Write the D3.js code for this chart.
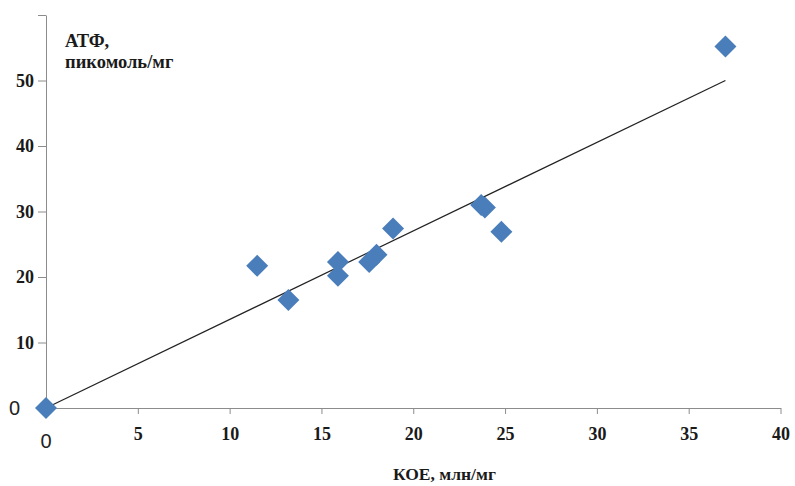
<!DOCTYPE html>
<html>
<head>
<meta charset="utf-8">
<script src="https://cdn.jsdelivr.net/npm/d3@7"></script>
<style>
  body { margin: 0; background: #fff; }
  .tick text { font-family: "Liberation Serif", "Times New Roman", serif; font-weight: bold; font-size: 18px; fill: #1a1a1a; }
  .axis path, .axis line { stroke: #8c8c8c; }
  .title { font-family: "Liberation Serif", "Times New Roman", serif; font-weight: bold; fill: #1a1a1a; }
  .zero { font-family: "Liberation Sans", Arial, sans-serif; font-size: 20px; fill: #222; }
</style>
</head>
<body>
<div id="chart"></div>
<script>
// Данные: КОЕ (млн/мг) и АТФ (пикомоль/мг)
var koe = [0, 11.5, 13.2, 15.9, 15.9, 17.6, 18.0, 18.9, 23.7, 23.9, 24.8, 37.0];
var atf = [0, 21.7, 16.5, 22.3, 20.2, 22.3, 23.4, 27.4, 31.0, 30.6, 26.9, 55.2];
var xTicks = [5, 10, 15, 20, 25, 30, 35, 40];
var yTicks = [10, 20, 30, 40, 50, 60];

var width = 795;
var height = 486;
var margin = { top: 15, right: 14, bottom: 78, left: 46 };

var svg = d3.select('#chart').append('svg')
    .attr('width', width)
    .attr('height', height);

var g = svg.append('g')
    .attr('transform', 'translate(' + margin.left + ',' + margin.top + ')');

var w = width - margin.left - margin.right;
var h = height - margin.top - margin.bottom;

var x = d3.scaleLinear().domain([0, 40]).range([0, w - 0.5]);
var y = d3.scaleLinear().domain([0, 60]).range([h, 0]);

// Ось X
g.append('g')
    .attr('class', 'axis x')
    .attr('transform', 'translate(0,' + h + ')')
    .call(d3.axisBottom(x).tickValues(xTicks).tickSize(6).tickSizeOuter(0).tickPadding(13));

// Ось Y
g.append('g')
    .attr('class', 'axis y')
    .call(d3.axisLeft(y).tickValues(yTicks).tickSize(8).tickSizeOuter(0).tickPadding(4)
        .tickFormat(d => d === 60 ? '' : d));

// Нули
g.append('text').attr('class', 'zero')
    .attr('x', -37).attr('y', y(0) + 7)
    .text('0');
g.append('text').attr('class', 'zero')
    .attr('x', x(0)).attr('y', y(0) + 40)
    .attr('text-anchor', 'middle').text('0');

// Линия тренда через начало координат (МНК)
var sxy = d3.sum(koe, (d, i) => d * atf[i]);
var sxx = d3.sum(koe, d => d * d);
var k = sxy / sxx;
var xMax = d3.max(koe);
g.append('line')
    .attr('x1', x(0)).attr('y1', y(0))
    .attr('x2', x(xMax)).attr('y2', y(k * xMax))
    .attr('stroke', '#222')
    .attr('stroke-width', 1.2);

// Точки (ромбы)
var pts = koe.map((d, i) => ({ x: d, y: atf[i] }));
g.selectAll('.pt')
    .data(pts)
    .enter().append('path')
    .attr('class', 'pt')
    .attr('d', 'M0,-11L11,0L0,11L-11,0Z')
    .attr('fill', '#4a7ebb')
    .attr('transform', d => 'translate(' + x(d.x) + ',' + y(d.y) + ')');

// Подписи осей
svg.append('text').attr('class', 'title').style('font-size', '18.5px')
    .attr('x', 65).attr('y', 47).text('АТФ,');
svg.append('text').attr('class', 'title').style('font-size', '18.5px')
    .attr('x', 65).attr('y', 68).text('пикомоль/мг');
svg.append('text').attr('class', 'title').style('font-size', '17.5px')
    .attr('x', 393).attr('y', 480).text('КОЕ, млн/мг');
</script>
</body>
</html>
